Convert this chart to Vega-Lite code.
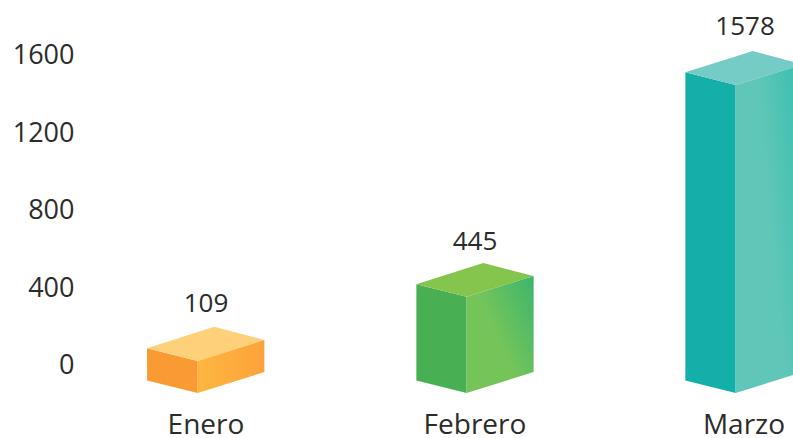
{"$schema":"https://vega.github.io/schema/vega-lite/v6.json","width":793,"height":438,"padding":0,"autosize":{"type":"none"},"background":"white","view":{"stroke":null},"config":{"font":"Open Sans"},
"datasets":{"caras":[
{"mes":"Enero","cara":"izquierda","x":-0.219,"y":81.0,"y2":-85.2},{"mes":"Enero","cara":"izquierda","x":-0.031,"y":15.5,"y2":-149.7},
{"mes":"Enero","cara":"derecha","x":-0.031,"y":15.5,"y2":-149.7},{"mes":"Enero","cara":"derecha","x":0.217,"y":123.9,"y2":-41.3},
{"mes":"Enero","cara":"superior","x":-0.219,"y":81.0,"y2":81.0},{"mes":"Enero","cara":"superior","x":-0.031,"y":164.6,"y2":15.5},{"mes":"Enero","cara":"superior","x":0.030,"y":192.5,"y2":41.8},{"mes":"Enero","cara":"superior","x":0.217,"y":123.9,"y2":123.9},
{"mes":"Febrero","cara":"izquierda","x":0.782,"y":411.4,"y2":-85.2},{"mes":"Febrero","cara":"izquierda","x":0.969,"y":347.4,"y2":-149.7},
{"mes":"Febrero","cara":"derecha","x":0.969,"y":347.4,"y2":-149.7},{"mes":"Febrero","cara":"derecha","x":1.218,"y":454.2,"y2":-41.3},
{"mes":"Febrero","cara":"superior","x":0.782,"y":411.4,"y2":411.4},{"mes":"Febrero","cara":"superior","x":0.969,"y":493.9,"y2":347.4},{"mes":"Febrero","cara":"superior","x":1.031,"y":521.3,"y2":373.7},{"mes":"Febrero","cara":"superior","x":1.218,"y":454.2,"y2":454.2},
{"mes":"Marzo","cara":"izquierda","x":1.782,"y":1505.6,"y2":-85.2},{"mes":"Marzo","cara":"izquierda","x":1.969,"y":1440.0,"y2":-149.7},
{"mes":"Marzo","cara":"derecha","x":1.969,"y":1440.0,"y2":-149.7},{"mes":"Marzo","cara":"derecha","x":2.219,"y":1545.8,"y2":-41.3},
{"mes":"Marzo","cara":"superior","x":1.782,"y":1505.6,"y2":1505.6},{"mes":"Marzo","cara":"superior","x":1.969,"y":1587.6,"y2":1440.0},{"mes":"Marzo","cara":"superior","x":2.032,"y":1615.5,"y2":1466.9},{"mes":"Marzo","cara":"superior","x":2.219,"y":1545.8,"y2":1545.8}
],
"valores":[{"mes":"Enero","valor":109,"x":0,"y":309.7},{"mes":"Febrero","valor":445,"x":1,"y":630},{"mes":"Marzo","valor":1578,"x":2.004,"y":1739}],
"meses":[{"mes":"Enero","x":0,"y":-320},{"mes":"Febrero","x":1,"y":-320},{"mes":"Marzo","x":2,"y":-320}]},
"encoding":{
"x":{"field":"x","type":"quantitative","title":null,"scale":{"domain":[-0.7658,2.1822],"nice":false,"zero":false},"axis":null},
"y":{"field":"y","type":"quantitative","title":null,"scale":{"domain":[-381.9,1878.7],"nice":false,"zero":false},"axis":{"values":[0,400,800,1200,1600],"format":"d","orient":"left","offset":-78,"domain":false,"ticks":false,"grid":false,"labelPadding":4,"labelOffset":1.5,"labelFontSize":27,"labelColor":"#2b2b2b"}}
},
"layer":[
{"data":{"name":"caras"},"transform":[{"filter":"datum.cara!=='derecha'"},{"calculate":"datum.mes+' '+datum.cara","as":"serie"}],"mark":{"type":"area","clip":true,"interpolate":"linear"},"encoding":{"y2":{"field":"y2"},"color":{"field":"serie","type":"nominal","legend":null,"scale":{"domain":["Enero izquierda","Enero superior","Febrero izquierda","Febrero superior","Marzo izquierda","Marzo superior"],"range":["#F99B32","#FFD07A","#48B053","#85C54E","#14AFA9","#75CBC6"]}}}},
{"data":{"name":"caras"},"transform":[{"filter":"datum.cara==='derecha'&&datum.mes==='Enero'"}],"mark":{"type":"area","clip":true,"color":{"gradient":"linear","x1":0,"y1":0.5,"x2":1,"y2":0.5,"stops":[{"offset":0,"color":"#FFB640"},{"offset":1,"color":"#FBA23A"}]}},"encoding":{"y2":{"field":"y2"}}},
{"data":{"name":"caras"},"transform":[{"filter":"datum.cara==='derecha'&&datum.mes==='Febrero'"}],"mark":{"type":"area","clip":true,"color":{"gradient":"linear","x1":0.45,"y1":0.5,"x2":1,"y2":0.05,"stops":[{"offset":0,"color":"#74C45A"},{"offset":1,"color":"#3EB66C"}]}},"encoding":{"y2":{"field":"y2"}}},
{"data":{"name":"caras"},"transform":[{"filter":"datum.cara==='derecha'&&datum.mes==='Marzo'"}],"mark":{"type":"area","clip":true,"color":{"gradient":"linear","x1":0.45,"y1":0.28,"x2":1,"y2":0.03,"stops":[{"offset":0,"color":"#5FC6B8"},{"offset":1,"color":"#36BFAF"}]}},"encoding":{"y2":{"field":"y2"}}},
{"data":{"name":"valores"},"mark":{"type":"text","font":"Open Sans","fontSize":26,"color":"#2b2b2b","baseline":"middle","align":"center"},"encoding":{"text":{"field":"valor","type":"quantitative","format":"d"}}},
{"data":{"name":"meses"},"mark":{"type":"text","font":"Open Sans","fontSize":28,"color":"#2b2b2b","baseline":"middle","align":"center"},"encoding":{"text":{"field":"mes","type":"nominal"}}}
]}
